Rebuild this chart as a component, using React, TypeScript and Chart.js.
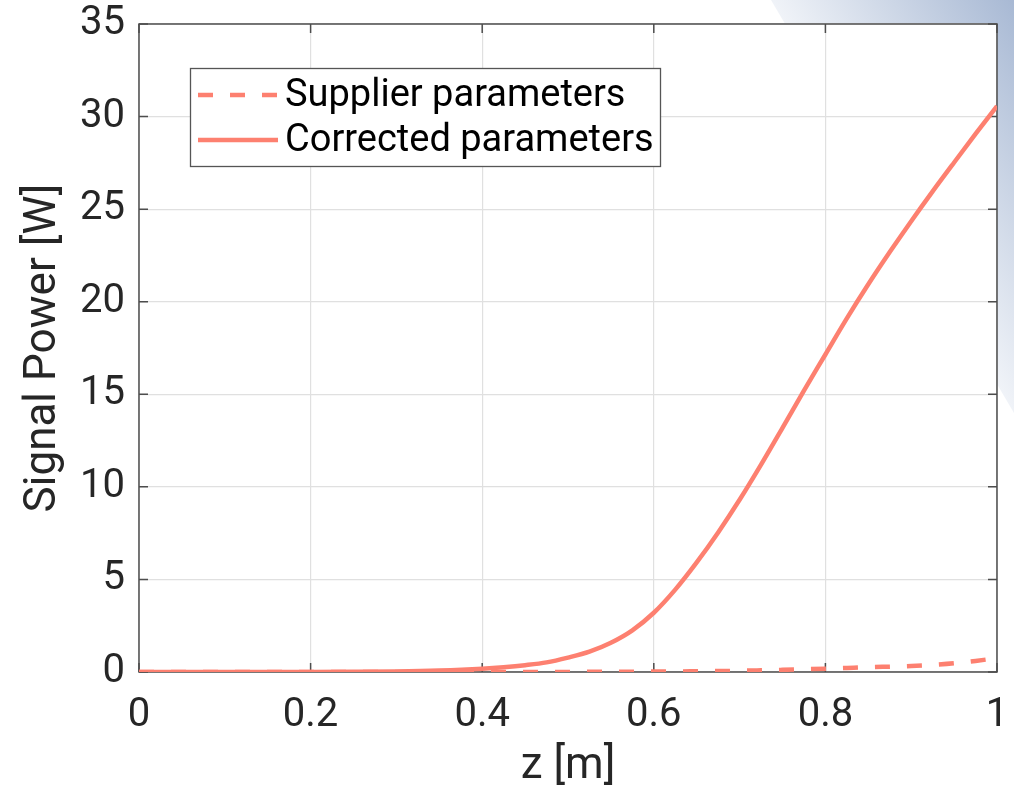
import React, { useEffect, useRef } from "react";
import { Chart, registerables } from "chart.js";

Chart.register(...registerables);

// Position along the fibre [m]
const zPositions = [
  0, 0.05, 0.1, 0.15, 0.2, 0.25, 0.3, 0.35, 0.4, 0.425, 0.45, 0.475, 0.5, 0.525, 0.55, 0.575, 0.6,
  0.625, 0.65, 0.675, 0.7, 0.725, 0.75, 0.775, 0.8, 0.825, 0.85, 0.875, 0.9, 0.925, 0.95, 0.975, 1.0,
];

// Signal power [W] with the supplier's fibre parameters
const supplierPower = [
  0, 0, 0, 0, 0, 0, 0, 0, 0.001, 0.002, 0.003, 0.004, 0.006, 0.008, 0.012, 0.016, 0.022,
  0.03, 0.04, 0.052, 0.068, 0.09, 0.115, 0.145, 0.18, 0.22, 0.26, 0.29, 0.32, 0.38, 0.47, 0.6, 0.75,
];

// Signal power [W] with the corrected fibre parameters
const correctedPower = [
  0, 0, 0.001, 0.003, 0.006, 0.012, 0.03, 0.08, 0.18, 0.26, 0.37, 0.52, 0.78, 1.1, 1.58, 2.25, 3.2,
  4.45, 5.92, 7.54, 9.3, 11.2, 13.19, 15.2, 17.15, 19.1, 20.94, 22.68, 24.35, 25.96, 27.52, 29.06, 30.57,
];

const zTicks = [0, 0.2, 0.4, 0.6, 0.8, 1];
const powerTicks = [0, 5, 10, 15, 20, 25, 30, 35];
const seriesNames = ["Supplier parameters", "Corrected parameters"];
const xAxisTitle = "z [m]";
const yAxisTitle = "Signal Power [W]";

const LINE_COLOR = "rgb(253,128,112)";
const AXIS_COLOR = "#4d4d4d";
const GRID_COLOR = "#e0e0e0";
const TEXT_COLOR = "#262626";
const FONT_FAMILY = "Roboto";
const DASH = [15, 17];

// Page background with the pale blue corner band
const backdropPlugin = {
  id: "backdrop",
  beforeDraw(chart: any) {
    const { ctx, width, height, chartArea } = chart;
    ctx.save();
    ctx.fillStyle = "#ffffff";
    ctx.fillRect(0, 0, width, height);
    const x0 = width - 243;
    const g = ctx.createLinearGradient(x0, 0, x0 + 180, -106);
    g.addColorStop(0, "#f0f3f8");
    g.addColorStop(1, "#a8b9d4");
    ctx.fillStyle = g;
    ctx.beginPath();
    ctx.moveTo(x0, 0);
    ctx.lineTo(width, 0);
    ctx.lineTo(width, 413);
    ctx.closePath();
    ctx.fill();
    ctx.fillStyle = "#ffffff";
    ctx.fillRect(
      chartArea.left,
      chartArea.top,
      chartArea.right - chartArea.left,
      chartArea.bottom - chartArea.top
    );
    ctx.restore();
  },
};

// Axes box with inward tick marks on all four sides
const framePlugin = {
  id: "frame",
  beforeDatasetsDraw(chart: any) {
    const { ctx, chartArea } = chart;
    const { left, right, top, bottom } = chartArea;
    const xs = chart.scales.x;
    const ys = chart.scales.y;
    const len = 9;
    ctx.save();
    ctx.strokeStyle = AXIS_COLOR;
    ctx.lineWidth = 1.5;
    ctx.beginPath();
    zTicks.forEach((v) => {
      const px = xs.getPixelForValue(v);
      ctx.moveTo(px, bottom);
      ctx.lineTo(px, bottom - len);
      ctx.moveTo(px, top);
      ctx.lineTo(px, top + len);
    });
    powerTicks.forEach((v) => {
      const py = ys.getPixelForValue(v);
      ctx.moveTo(left, py);
      ctx.lineTo(left + len, py);
      ctx.moveTo(right, py);
      ctx.lineTo(right - len, py);
    });
    ctx.stroke();
    ctx.strokeRect(left, top, right - left, bottom - top);
    ctx.restore();
  },
};

// Boxed legend inside the upper-left of the plot
const insetLegendPlugin = {
  id: "insetLegend",
  afterDatasetsDraw(chart: any) {
    const { ctx } = chart;
    const boxX = 190.5;
    const boxY = 68.5;
    const boxW = 470;
    const boxH = 98;
    ctx.save();
    ctx.fillStyle = "#ffffff";
    ctx.fillRect(boxX, boxY, boxW, boxH);
    ctx.strokeStyle = "#555555";
    ctx.lineWidth = 1.3;
    ctx.strokeRect(boxX, boxY, boxW, boxH);
    ctx.font = `38px ${FONT_FAMILY}`;
    ctx.textBaseline = "middle";
    ctx.textAlign = "left";
    const rows = [95, 140];
    chart.data.datasets.forEach((ds: any, i: number) => {
      const y = rows[i];
      ctx.strokeStyle = ds.borderColor;
      ctx.lineWidth = ds.borderWidth;
      ctx.setLineDash(ds.borderDash || []);
      ctx.beginPath();
      ctx.moveTo(198, y);
      ctx.lineTo(278, y);
      ctx.stroke();
      ctx.setLineDash([]);
      ctx.fillStyle = "#000000";
      ctx.fillText(ds.label, 285, y + 1);
    });
    ctx.restore();
  },
};

const noScalePadding = (s: any) => {
  s.paddingTop = 0;
  s.paddingBottom = 0;
  s.paddingLeft = 0;
  s.paddingRight = 0;
};

export default function App() {
  const canvasRef = useRef<HTMLCanvasElement | null>(null);

  useEffect(() => {
    if (!canvasRef.current) return;
    const toPoints = (ys: number[]) => zPositions.map((z, i) => ({ x: z, y: ys[i] }));

    const chart = new Chart(canvasRef.current, {
      type: "line",
      data: {
        datasets: [
          {
            label: seriesNames[0],
            data: toPoints(supplierPower),
            borderColor: LINE_COLOR,
            borderWidth: 4.5,
            borderDash: DASH,
            pointRadius: 0,
            cubicInterpolationMode: "monotone",
            fill: false,
          },
          {
            label: seriesNames[1],
            data: toPoints(correctedPower),
            borderColor: LINE_COLOR,
            borderWidth: 4.5,
            pointRadius: 0,
            cubicInterpolationMode: "monotone",
            fill: false,
          },
        ],
      },
      options: {
        animation: false,
        responsive: false,
        devicePixelRatio: 1,
        layout: { padding: { top: 24, right: 17, left: 0, bottom: 0 } },
        plugins: {
          legend: { display: false },
          tooltip: { enabled: false },
        },
        scales: {
          x: {
            type: "linear",
            min: 0,
            max: 1,
            afterBuildTicks: (s: any) => {
              s.ticks = zTicks.map((v) => ({ value: v }));
            },
            afterFit: (s: any) => {
              s.height = 121;
              noScalePadding(s);
            },
            grid: { color: GRID_COLOR, lineWidth: 1.2, drawTicks: false },
            border: { display: false },
            ticks: {
              color: TEXT_COLOR,
              font: { family: FONT_FAMILY, size: 40 },
              padding: 20,
              maxRotation: 0,
              callback: (v: any) => String(v),
            },
            title: {
              display: true,
              text: xAxisTitle,
              color: TEXT_COLOR,
              font: { family: FONT_FAMILY, size: 44 },
              padding: { top: 0, bottom: 0 },
            },
          },
          y: {
            type: "linear",
            min: 0,
            max: 35,
            afterBuildTicks: (s: any) => {
              s.ticks = powerTicks.map((v) => ({ value: v }));
            },
            afterFit: (s: any) => {
              s.width = 139;
              noScalePadding(s);
            },
            grid: { color: GRID_COLOR, lineWidth: 1.2, drawTicks: false },
            border: { display: false },
            ticks: {
              color: TEXT_COLOR,
              font: { family: FONT_FAMILY, size: 40 },
              padding: 14,
              callback: (v: any) => String(v),
            },
            title: {
              display: true,
              text: yAxisTitle,
              color: TEXT_COLOR,
              font: { family: FONT_FAMILY, size: 44 },
              padding: { top: 18, bottom: 0 },
            },
          },
        },
      },
      plugins: [backdropPlugin, framePlugin, insetLegendPlugin],
    } as any);

    return () => chart.destroy();
  }, []);

  return (
    <div style={{ position: "absolute", left: 0, top: 0, width: 1014, height: 793 }}>
      <canvas ref={canvasRef} width={1014} height={793} style={{ display: "block" }} />
    </div>
  );
}
